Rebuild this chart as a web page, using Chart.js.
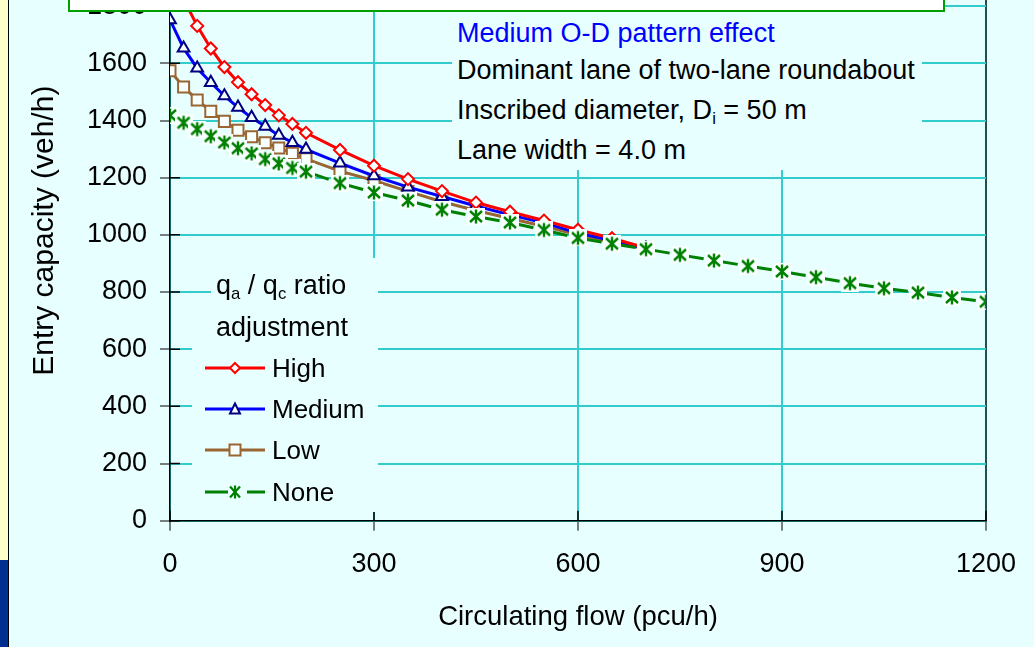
<!DOCTYPE html>
<html>
<head>
<meta charset="utf-8">
<script src="https://cdn.jsdelivr.net/npm/chart.js@4.4.1/dist/chart.umd.min.js"></script>
<style>
  html, body { margin: 0; padding: 0; }
  body {
    width: 1034px; height: 647px; overflow: hidden; position: relative;
    background: #E8FFFF;
    font-family: "Liberation Sans", Arial, sans-serif;
  }
  #chart { position: absolute; left: 0; top: -91px; }
  .strip { position: absolute; left: 0; top: 0; width: 8px; height: 560px; background: #FFFFCC; border-right: 1px solid #000; }
  .strip-low { position: absolute; left: 0; top: 560px; width: 8px; height: 87px; background: #00308F; border-right: 1px solid #000; }
  .topbox { position: absolute; left: 68px; top: -10px; width: 873px; height: 18px; background: #fff; border: 2px solid #00A000; }
  .mask { position: absolute; background: #E8FFFF; }
  .txt { position: absolute; white-space: nowrap; font-size: 27px; line-height: 40px; height: 40px; color: #000; }
  .leg { font-size: 26px; }
  sub { font-size: 62%; vertical-align: -0.3em; line-height: 0; }
  svg { position: absolute; overflow: visible; }
</style>
</head>
<body>
<div class="strip"></div>
<div class="strip-low"></div>
<canvas id="chart" width="1034" height="738"></canvas>

<!-- text block, hides the grid behind it -->
<div class="mask" style="left:452px; top:12px; width:470px; height:158px;"></div>
<div class="txt" style="left:457px; top:13px; color:#0000FF;">Medium O-D pattern effect</div>
<div class="txt" style="left:457px; top:50px;">Dominant lane of two-lane roundabout</div>
<div class="txt" style="left:457px; top:90px;">Inscribed diameter, D<sub>i</sub> = 50 m</div>
<div class="txt" style="left:457px; top:130px;">Lane width = 4.0 m</div>

<!-- legend -->
<div class="mask" style="left:211px; top:258px; width:167px; height:88px;"></div>
<div class="mask" style="left:192px; top:346px; width:186px; height:166px;"></div>
<div class="txt" style="left:216px; top:265px;">q<sub>a</sub> / q<sub>c</sub> ratio</div>
<div class="txt" style="left:216px; top:307px;">adjustment</div>

<svg style="left:204px; top:358px;" width="62" height="20">
  <line x1="1" y1="10" x2="61" y2="10" stroke="#FF0000" stroke-width="3"/>
  <polygon points="31,5 36,10 31,15 26,10" fill="#F8FFFF" stroke="#FF0000" stroke-width="2"/>
</svg>
<div class="txt leg" style="left:272px; top:348px;">High</div>

<svg style="left:204px; top:399px;" width="62" height="20">
  <line x1="1" y1="10" x2="61" y2="10" stroke="#0000FF" stroke-width="3"/>
  <polygon points="31,4.5 36,14.5 26,14.5" fill="#F8FFFF" stroke="#000080" stroke-width="2"/>
</svg>
<div class="txt leg" style="left:272px; top:389px;">Medium</div>

<svg style="left:204px; top:440px;" width="62" height="20">
  <line x1="1" y1="10" x2="61" y2="10" stroke="#996633" stroke-width="3"/>
  <rect x="25.5" y="4.5" width="11" height="11" fill="#F8FFFF" stroke="#996633" stroke-width="2"/>
</svg>
<div class="txt leg" style="left:272px; top:430px;">Low</div>

<svg style="left:204px; top:482px;" width="62" height="20">
  <line x1="1" y1="10" x2="24" y2="10" stroke="#008000" stroke-width="3"/>
  <line x1="43" y1="10" x2="61" y2="10" stroke="#008000" stroke-width="3"/>
  <g stroke="#008000" stroke-width="2.2">
    <line x1="31" y1="3.5" x2="31" y2="16.5"/>
    <line x1="26" y1="4.5" x2="36" y2="15.5"/>
    <line x1="36" y1="4.5" x2="26" y2="15.5"/>
  </g>
</svg>
<div class="txt leg" style="left:272px; top:472px;">None</div>

<div class="topbox"></div>

<script>
// circulating flow (pcu/h) at each computed point
const flowX = [0, 20, 40, 60, 80, 100, 120, 140, 160, 180, 200,
               250, 300, 350, 400, 450, 500, 550, 600, 650, 700,
               750, 800, 850, 900, 950, 1000, 1050, 1100, 1150, 1200];

// entry capacity (veh/h) per qa/qc ratio adjustment
const highCap   = [1940, 1825, 1731, 1652, 1587, 1534, 1492, 1454, 1418, 1388, 1357,
                   1297, 1242, 1195, 1153, 1113, 1081, 1050, 1018, 988, 954];
const mediumCap = [1752, 1653, 1583, 1533, 1486, 1446, 1410, 1380, 1348, 1323, 1299,
                   1251, 1206, 1167, 1134, 1101, 1070, 1042, 1006, 980, 952];
const lowCap    = [1574, 1517, 1472, 1432, 1397, 1366, 1343, 1322, 1304, 1285, 1266,
                   1223, 1190, 1152, 1116, 1085, 1057, 1030, 1000, 975, 951];
const noneCap   = [1418, 1392, 1370, 1345, 1323, 1303, 1285, 1265, 1250, 1234, 1221,
                   1181, 1148, 1120, 1088, 1064, 1043, 1017, 989, 969, 950,
                   930, 910, 891, 872, 852, 831, 813, 798, 781, 766];

const xTickStep = 300;
const yTickStep = 200;
const yTopLabel = 1800;

const FONT = '"Liberation Sans", Arial, sans-serif';
const gridCyan = '#33CCCC';

function toPoints(vals) {
    return vals.map((v, i) => ({ x: flowX[i], y: v }));
}

// star marker with its own light square behind it (like the Excel one)
function makeStar() {
    const c = document.createElement('canvas');
    c.width = 18; c.height = 17;
    const g = c.getContext('2d');
    g.fillStyle = '#F8FFFF';
    g.fillRect(0, 0, 18, 17);
    g.strokeStyle = '#008000';
    g.lineWidth = 2.4;
    g.beginPath();
    g.moveTo(9, 1.5); g.lineTo(9, 15.5);
    g.moveTo(3, 3); g.lineTo(15, 14);
    g.moveTo(15, 3); g.lineTo(3, 14);
    g.stroke();
    return c;
}

// tick marks cross the axes, draw the inner half
const innerTicks = {
    id: 'innerTicks',
    beforeDatasetsDraw(chart) {
        const { ctx, chartArea, scales: { x, y } } = chart;
        ctx.save();
        ctx.strokeStyle = '#000';
        ctx.lineWidth = 1.5;
        ctx.beginPath();
        y.ticks.forEach(t => {
            const p = y.getPixelForValue(t.value);
            ctx.moveTo(chartArea.left, p);
            ctx.lineTo(chartArea.left + 10, p);
        });
        x.ticks.forEach(t => {
            const p = x.getPixelForValue(t.value);
            ctx.moveTo(p, chartArea.bottom);
            ctx.lineTo(p, chartArea.bottom - 10);
        });
        ctx.stroke();
        ctx.restore();
    }
};

const lineBase = {
    borderWidth: 3,
    pointBorderWidth: 2,
    pointBackgroundColor: '#F8FFFF',
    tension: 0,
    fill: false
};

const ctx = document.getElementById('chart').getContext('2d');
new Chart(ctx, {
    type: 'line',
    data: {
        datasets: [
            {
                ...lineBase,
                label: 'None',
                data: toPoints(noneCap),
                borderColor: '#008000',
                borderDash: [24, 9],
                pointStyle: makeStar(),
                order: 0,
                // restart the dash at every point
                segment: { borderDashOffset: c => (c.p0DataIndex % 2 ? 0.01 : 0) }
            },
            {
                ...lineBase,
                label: 'High',
                data: toPoints(highCap),
                borderColor: '#FF0000',
                pointBorderColor: '#FF0000',
                pointStyle: 'rectRot',
                pointRadius: 6,
                order: 1
            },
            {
                ...lineBase,
                label: 'Medium',
                data: toPoints(mediumCap),
                borderColor: '#0000FF',
                pointBorderColor: '#000080',
                pointStyle: 'triangle',
                pointRadius: 6.8,
                order: 2
            },
            {
                ...lineBase,
                label: 'Low',
                data: toPoints(lowCap),
                borderColor: '#996633',
                pointBorderColor: '#996633',
                pointStyle: 'rect',
                pointRadius: 7.8,
                order: 3
            }
        ]
    },
    options: {
        responsive: false,
        animation: false,
        events: [],
        layout: { padding: { left: 0, right: 46, top: 40, bottom: 0 } },
        plugins: {
            legend: { display: false },
            tooltip: { enabled: false }
        },
        scales: {
            x: {
                type: 'linear',
                min: 0,
                max: 1200,
                afterFit: s => { s.height = 126.3; },
                ticks: {
                    stepSize: xTickStep,
                    padding: 18,
                    color: '#000',
                    font: { family: FONT, size: 27 },
                    callback: v => String(v)
                },
                grid: {
                    color: c => (c.tick && c.tick.value === 1200 ? '#1E5050' : gridCyan),
                    lineWidth: 2,
                    tickColor: '#000',
                    tickLength: 10,
                    tickWidth: 1
                },
                border: { color: '#000', width: 1.5 },
                title: {
                    display: true,
                    text: 'Circulating flow (pcu/h)',
                    color: '#000',
                    font: { family: FONT, size: 27.5 },
                    padding: { top: 0, bottom: 13 }
                }
            },
            y: {
                min: 0,
                max: 2000,
                afterFit: s => { s.width = 170; },
                ticks: {
                    stepSize: yTickStep,
                    padding: 13,
                    color: '#000',
                    font: { family: FONT, size: 27 },
                    callback: v => (v > yTopLabel ? '' : String(v))
                },
                grid: {
                    color: gridCyan,
                    lineWidth: 2,
                    tickColor: '#000',
                    tickLength: 10,
                    tickWidth: 1
                },
                border: { color: '#000', width: 1.5 },
                title: {
                    display: true,
                    text: ' Entry capacity (veh/h)',
                    color: '#000',
                    font: { family: FONT, size: 30 },
                    padding: { top: 27, bottom: 0 }
                }
            }
        }
    },
    plugins: [innerTicks]
});
</script>
</body>
</html>
